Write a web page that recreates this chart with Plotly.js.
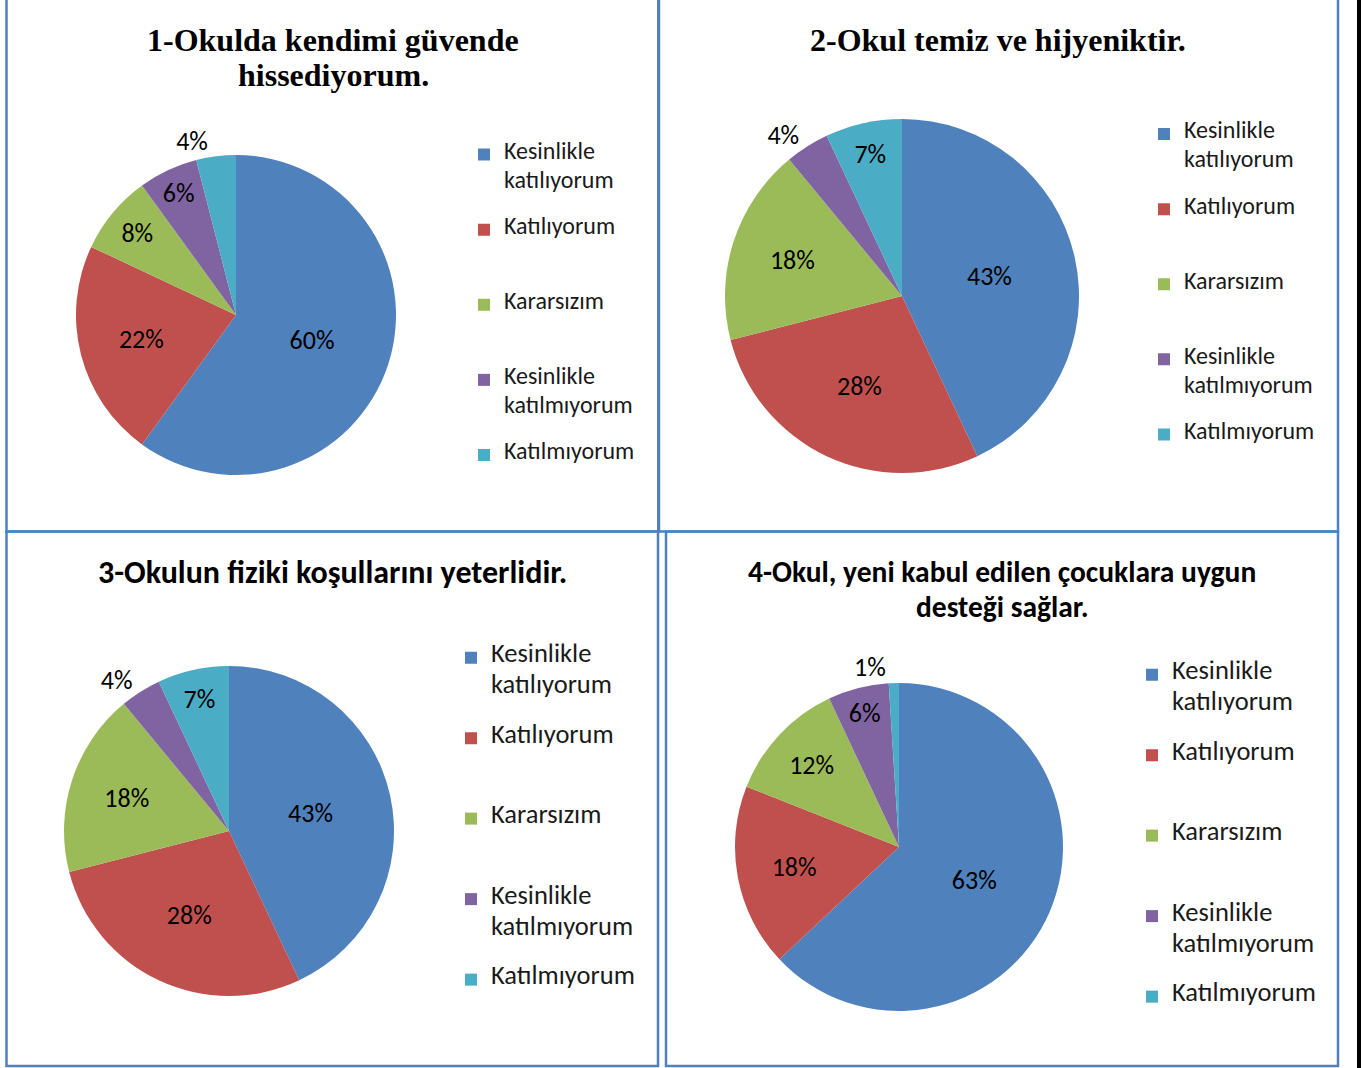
<!DOCTYPE html>
<html><head><meta charset="utf-8">
<script src="https://cdn.plot.ly/plotly-3.0.1.min.js"></script>
<style>html,body{margin:0;padding:0;background:#fff;overflow:hidden;} #chart{width:1361px;height:1068px;}</style>
</head><body><div id="chart"></div>
<script>
// ---- data ----
const categories = ['Kesinlikle katılıyorum', 'Katılıyorum', 'Kararsızım', 'Kesinlikle katılmıyorum', 'Katılmıyorum'];
const q1Values = [60, 22, 8, 6, 4];
const q2Values = [43, 28, 18, 4, 7];
const q3Values = [43, 28, 18, 4, 7];
const q4Values = [63, 18, 12, 6, 1];
const q1Title = ['1-Okulda kendimi güvende', 'hissediyorum.'];
const q2Title = ['2-Okul temiz ve hijyeniktir.'];
const q3Title = ['3-Okulun fiziki koşullarını yeterlidir.'];
const q4Title = ['4-Okul, yeni kabul edilen çocuklara uygun', 'desteği sağlar.'];
const sliceColors = ['#4F81BD', '#C0504D', '#9BBB59', '#8064A2', '#4BACC6'];

// ---- layout helpers ----
const W = 1361, H = 1068;
const fx = x => x / W;
const fy = y => 1 - y / H;
const NB = '\u00a0';
const SANS = 'Carlito, Calibri, Lato, sans-serif';
// legend labels: words on alternate lines of a 5-line block so every entry gets the same slot height
function legendLabels(fontPx) {
  return categories.map(c => {
    const words = c.split(' ');
    const lines = [];
    words.forEach((w, k) => { if (k > 0) lines.push(NB); lines.push('<span style="font-size:' + fontPx + 'px">' + w + '</span>'); });
    while (lines.length < 5) lines.push(NB);
    return lines.join('<br>');
  });
}

const serifBold = {family: 'Liberation Serif, Times New Roman, serif', size: 32, color: '#000', weight: 'bold'};

const panels = [
  {values: q1Values, title: q1Title, tfont: serifBold, tx: 333, ty: [40, 75], cx: 236, cy: 315, r: 160,
   lx: 484, ly: 150.5, slot: 75.1, lfont: 24, pos: ['inside', 'inside', 'inside', 'inside', 'outside']},
  {values: q2Values, title: q2Title, tfont: serifBold, tx: 998, ty: [40], cx: 902, cy: 296, r: 177,
   lx: 1164, ly: 130, slot: 75.1, lfont: 24, pos: ['inside', 'inside', 'inside', 'outside', 'inside']},
  {values: q3Values, title: q3Title, tfont: {family: SANS, size: 32, color: '#000', weight: 'bold'}, tx: 332, ty: [572], cx: 229, cy: 831, r: 165,
   lx: 471, ly: 653, slot: 80.5, lfont: 26.5, pos: ['inside', 'inside', 'inside', 'outside', 'inside']},
  {values: q4Values, title: q4Title, tfont: {family: SANS, size: 29.5, color: '#000', weight: 'bold'}, tx: 1002, ty: [572, 607], cx: 899, cy: 847, r: 164,
   lx: 1152, ly: 670, slot: 80.5, lfont: 26.5, pos: ['inside', 'inside', 'inside', 'inside', 'outside']}
];

const traces = [];
const annotations = [];
const layout = {
  width: W, height: H,
  margin: {l: 0, r: 0, t: 0, b: 0, autoexpand: false},
  paper_bgcolor: '#ffffff',
  showlegend: true,
  annotations: annotations,
  shapes: []
};

panels.forEach((p, i) => {
  const legendName = i === 0 ? 'legend' : 'legend' + (i + 1);
  traces.push({
    type: 'pie',
    labels: legendLabels(p.lfont),
    values: p.values,
    sort: false,
    direction: 'clockwise',
    rotation: 0,
    marker: {colors: sliceColors, line: {width: 0}},
    texttemplate: '%{percent:.0%}',
    textposition: p.pos,
    insidetextorientation: 'horizontal',
    textfont: {family: SANS, size: 26, color: '#000'},
    domain: {x: [fx(p.cx - p.r), fx(p.cx + p.r)], y: [fy(p.cy + p.r), fy(p.cy - p.r)]},
    hoverinfo: 'skip',
    legend: legendName,
    legendgroup: 'panel' + i,
    showlegend: true
  });
  const LH = (p.slot - 3) / 5;           // line height of the legend text element
  const baseSize = LH / 1.3;
  const top = p.ly - 6.5 - 0.8 * LH + 0.35 * p.lfont;
  layout[legendName] = {
    x: fx(p.lx - 20), xanchor: 'left',
    y: fy(top), yanchor: 'top',
    valign: 'top',
    bgcolor: 'rgba(0,0,0,0)', borderwidth: 0,
    font: {family: SANS, size: baseSize, color: '#1a1a1a'},
    traceorder: 'normal', itemclick: false, itemdoubleclick: false
  };
  p.title.forEach((t, k) => {
    annotations.push({
      text: t, showarrow: false, xref: 'paper', yref: 'paper',
      x: fx(p.tx), y: fy(p.ty[k]), xanchor: 'center', yanchor: 'middle',
      font: p.tfont
    });
  });
});

// panel frames
const frameLine = {color: '#4F81BD', width: 2.5};
[[6.5, -6, 658.3, 531.5], [659, -6, 1338, 531.5], [6.5, 531.5, 658, 1066], [666, 531.5, 1338, 1066]].forEach(b => {
  layout.shapes.push({type: 'rect', xref: 'paper', yref: 'paper', layer: 'above',
    x0: fx(b[0]), x1: fx(b[2]), y0: fy(b[3]), y1: fy(b[1]), line: frameLine, fillcolor: 'rgba(0,0,0,0)'});
});
layout.shapes.push({type: 'rect', xref: 'paper', yref: 'paper', x0: fx(1357), x1: fx(1366), y0: fy(1075), y1: fy(-6),
  line: {width: 0}, fillcolor: '#000'});

Plotly.newPlot('chart', traces, layout, {displayModeBar: false, staticPlot: true});
</script>
</body></html>
